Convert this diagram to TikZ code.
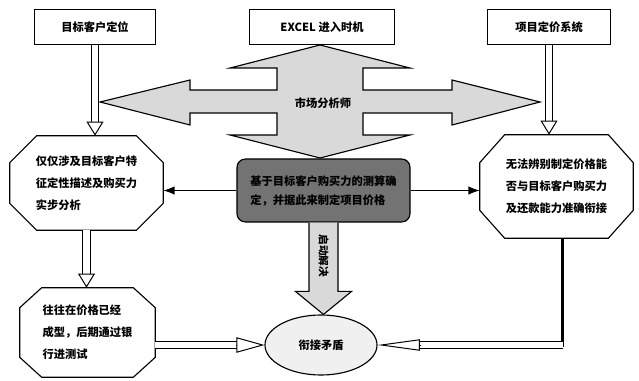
\documentclass[tikz,border=0pt]{standalone}
\usepackage{fontspec}
\setmainfont{Noto Sans CJK SC}
\usetikzlibrary{arrows.meta, calc, shapes.geometric}

\tikzset{
  topbox/.style={draw, line width=0.7pt, minimum height=0.875cm, font=\bfseries\fontsize{8}{10}\selectfont},
  octtext/.style={inner sep=0pt, align=left, font=\bfseries\fontsize{8}{15.5}\selectfont},
  octline/.style={draw, line width=0.8pt},
  darkbox/.style={draw, line width=0.8pt, rounded corners=6pt, fill=black!55, align=left,
    minimum width=4.325cm, minimum height=1.575cm, font=\bfseries\fontsize{8}{13.5}\selectfont},
  goal/.style={ellipse, draw, line width=0.8pt, fill=black!6, minimum width=2.8cm,
    minimum height=1.5cm, font=\bfseries\fontsize{8}{10}\selectfont},
  dblshaft/.style={double, double distance=4.5pt, line width=0.7pt},
  dblhead/.style={line width=0.7pt},
  bigarrow/.style={line width=0.8pt, fill=black!15},
  thinarrow/.style={line width=0.8pt, -{Latex[length=8pt,width=6pt]}}
}

% #1 head length, #2 head width, #3 from, #4 to
\newcommand{\hollowarrow}[4]{%
  \draw[dblshaft, shorten >=#1-1pt] (#3) -- (#4);
  \draw[dblhead, -{Triangle[length=#1, width=#2, fill=white]}] ($(#4)!#1!(#3)$) -- (#4);
}
% octagon round a node: #2 chamfer in x, #3 chamfer in y
\newcommand{\octframe}[3]{%
  \draw[octline] ($(#1.north west)+(#2,0)$) -- ($(#1.north east)+(-#2,0)$)
    -- ($(#1.north east)+(0,#3)$) -- ($(#1.south east)+(0,-#3)$)
    -- ($(#1.south east)+(-#2,0)$) -- ($(#1.south west)+(#2,0)$)
    -- ($(#1.south west)+(0,-#3)$) -- ($(#1.north west)+(0,#3)$) -- cycle;
}

\begin{document}
\begin{tikzpicture}[x=0.025cm, y=-0.025cm]
\useasboundingbox (0,0) rectangle (639,381);

% market analyst cross
\draw[bigarrow] (320,45) -- (410,68) -- (363,68) -- (363,90) -- (452,90) -- (452,80)
  -- (540,102) -- (452,125) -- (452,113) -- (363,113) -- (363,135) -- (410,135)
  -- (320,158) -- (230,135) -- (277,135) -- (277,113) -- (190,113) -- (190,125)
  -- (100,102) -- (190,80) -- (190,90) -- (277,90) -- (277,68) -- (230,68) -- cycle;
\node[font=\bfseries\fontsize{8}{10}\selectfont] (mkt) at (323,103) {市场分析师};

\node[topbox, minimum width=3cm] (t1) at (95,27) {目标客户定位};
\node[topbox, minimum width=3.625cm] (t2) at (322,27) {EXCEL 进入时机};
\node[topbox, minimum width=3.05cm] (t3) at (549,27) {项目定价系统};

\node[octtext, minimum width=3.825cm, minimum height=2.35cm] (o1) at (86.5,183)
  {仅仅涉及目标客户特\\征定性描述及购买力\\实步分析};
\octframe{o1}{27}{27}
\node[octtext, minimum width=3.825cm, minimum height=2.575cm] (o2) at (556.5,186.5)
  {无法辨别制定价格能\\否与目标客户购买力\\及还款能力准确衔接};
\octframe{o2}{25}{28}
\node[octtext, minimum width=3.375cm, minimum height=2.225cm] (o3) at (87.5,332.5)
  {往往在价格已经\\成型，后期通过银\\行进测试};
\octframe{o3}{22}{20}

\node[darkbox] (d) at (323.5,190.5)
  {基于目标客户购买力的测算确\\定，并据此来制定项目价格};
\node[goal] (e) at (321,345) {衔接矛盾};

% connectors
\coordinate (a1) at (t1.south |- o1.north);
\hollowarrow{10pt}{12pt}{t1.south}{a1}
\coordinate (a3) at (t3.south |- o2.north);
\hollowarrow{10pt}{12pt}{t3.south}{a3}
\coordinate (a2) at (o1.south |- o3.north);
\hollowarrow{10pt}{12pt}{o1.south}{a2}
\coordinate (a4) at (o3.east |- e.west);
\hollowarrow{20pt}{11pt}{a4}{e.west}

\draw[thinarrow] (d.west) -- (d.west -| o1.east);
\draw[thinarrow] (d.east) -- (d.east -| o2.west);

\coordinate (o2out) at ($(o2.south)+(6,0)$);
\coordinate (turn) at (o2out |- e.east);
\draw[line width=2pt] (o2out) -- ($(turn)+(0,1.5)$);
\hollowarrow{30pt}{8pt}{turn}{e.east}

\coordinate (dtip) at (d.south |- e.north);
\draw[bigarrow] ($(d.south)+(-14.5,0)$) -- ($(dtip)+(-14.5,-23)$) -- ($(dtip)+(-28,-23)$)
  -- (dtip) -- ($(dtip)+(28,-23)$) -- ($(dtip)+(14.5,-23)$) -- ($(d.south)+(14.5,0)$);
\node[rotate=-90, font=\bfseries\fontsize{7.5}{9}\selectfont] (solve)
  at ($(d.south)!0.36!(dtip)$) {启动解决};
\end{tikzpicture}
\end{document}
